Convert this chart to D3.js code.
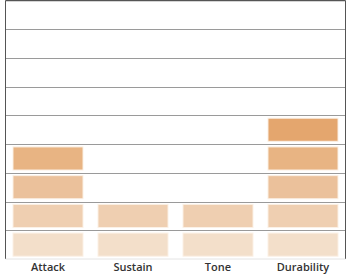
<!DOCTYPE html>
<html>
<head>
<meta charset="utf-8">
<script src="https://cdn.jsdelivr.net/npm/d3@7"></script>
<style>
  body { margin: 0; background: #fff; }
  svg { display: block; }
</style>
</head>
<body>
<svg width="352" height="280"></svg>
<script>
"use strict";

// Data.

var categories = ["Attack", "Sustain", "Tone", "Durability"];
var ratings = [4, 2, 2, 5];
var maxRating = 9;
var levelColors = ["#f3dfca", "#efcfb1", "#ebc19b", "#e8b483", "#e4a66e"];

// SVG and scales.

var svg = d3.select("svg");
var PlotLeft = 5.5, PlotRight = 345.5, PlotTop = 0.5, PlotBottom = 259;

var x = d3.scaleBand()
    .domain(categories)
    .range([PlotLeft, PlotRight])
    .paddingInner(0.176)
    .paddingOuter(0.088);

var y = d3.scaleLinear()
    .domain([0, maxRating])
    .range([PlotBottom, PlotTop]);

// Gridlines.

svg.append("g")
    .selectAll("line")
    .data(d3.range(1, maxRating))
    .enter()
    .append("line")
        .attr("x1", PlotLeft)
        .attr("x2", PlotRight)
        .attr("y1", function(d){ return Math.round(y(d)) + 0.5; })
        .attr("y2", function(d){ return Math.round(y(d)) + 0.5; })
        .style("stroke", "#9a9a9a")
        .style("stroke-width", 1);

// Frame: dark top/left/right, light bottom.

svg.append("line")
    .attr("x1", PlotLeft).attr("x2", PlotRight).attr("y1", PlotTop).attr("y2", PlotTop)
    .style("stroke", "#555").style("stroke-width", 1.5);
svg.append("line")
    .attr("x1", PlotLeft).attr("x2", PlotLeft).attr("y1", PlotTop).attr("y2", PlotBottom)
    .style("stroke", "#555").style("stroke-width", 1);
svg.append("line")
    .attr("x1", PlotRight).attr("x2", PlotRight).attr("y1", PlotTop).attr("y2", PlotBottom)
    .style("stroke", "#555").style("stroke-width", 1);
svg.append("line")
    .attr("x1", PlotLeft).attr("x2", PlotRight).attr("y1", PlotBottom).attr("y2", PlotBottom)
    .style("stroke", "#e4e4e4").style("stroke-width", 1);

// Segments: one block per rating level.

var segments = [];
categories.forEach(function(c, i){
    for (var k = 0; k < ratings[i]; k++){
        segments.push({ "cat": c, "level": k });
    }
});

var inset = 2.8;

svg.append("g")
    .selectAll("rect")
    .data(segments)
    .enter()
    .append("rect")
        .attr("x", function(d){ return x(d.cat); })
        .attr("width", x.bandwidth())
        .attr("y", function(d){ return y(d.level + 1) + inset; })
        .attr("height", function(d){ return y(d.level) - y(d.level + 1) - 2*inset; })
        .attr("fill", function(d){ return levelColors[d.level]; })
        .style("stroke", "#fbf1e6")
        .style("stroke-width", 1);

// Category labels.

svg.append("g")
    .selectAll("text")
    .data(categories)
    .enter()
    .append("text")
        .attr("x", function(d){ return x(d) + x.bandwidth()/2; })
        .attr("y", 271)
        .attr("text-anchor", "middle")
        .style("font-family", "'Open Sans', sans-serif")
        .style("font-weight", 600)
        .style("font-size", "11px")
        .style("fill", "#333")
        .text(function(d){ return d; });
</script>
</body>
</html>
